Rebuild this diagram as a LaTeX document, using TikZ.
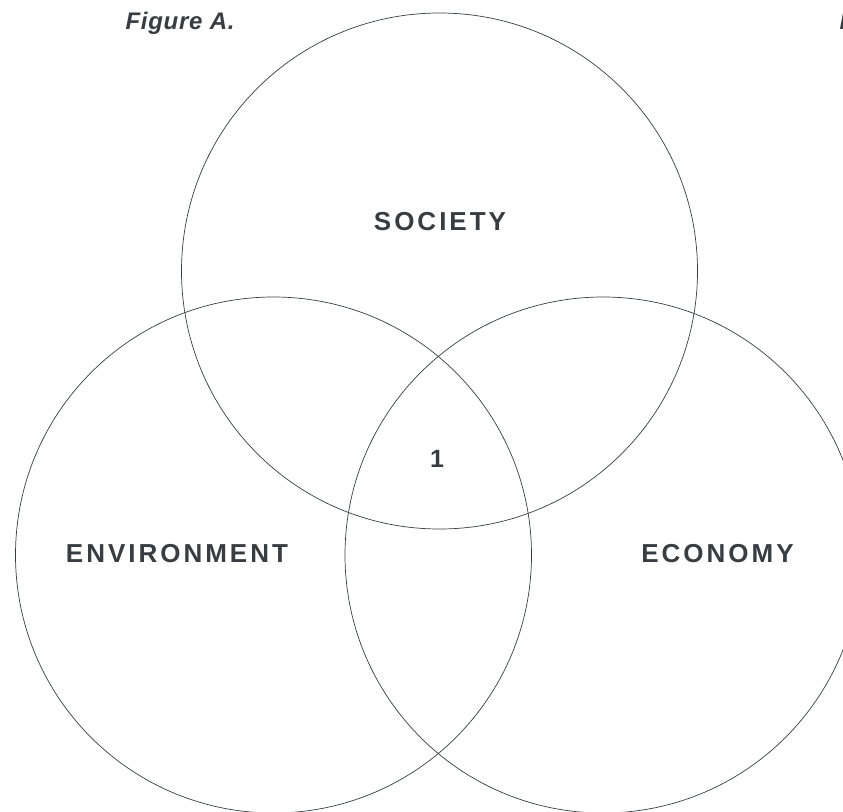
\documentclass[tikz,border=0pt]{standalone}
\usepackage{fontspec}
\setmainfont{Liberation Sans}
\newfontfamily\labelfont{Liberation Sans}[LetterSpace=11.5]
\newfontfamily\captionfont{Liberation Sans}[LetterSpace=3]
\usepackage{tikz}
\usetikzlibrary{positioning}

\definecolor{ink}{HTML}{383D42}

\begin{document}
\begin{tikzpicture} [x=1pt,y=-1pt,
  every node/.style={text=ink},
  set/.style={draw=ink,line width=0.7pt,circle,minimum size=516pt,inner sep=0pt},
  setname/.style={font=\labelfont\bfseries\fontsize{26}{30}\selectfont},
  caption/.style={font=\captionfont\bfseries\itshape\fontsize{24}{28}\selectfont,anchor=base west}]
\useasboundingbox (0,0) rectangle (843,811);

% the three sets
\node (society) [set] at (439.5,271) {};
\node (environment) [set] at (273.5,555) {};
\node (economy) [set] at (603,555) {};

% names and the common part
\node (s) [setname] at (440,222) {SOCIETY};
\node (e) [setname] at (177,553.5) {ENVIRONMENT};
\node (c) [setname] at (717.5,553.5) {ECONOMY};
\node (one) [font=\bfseries\fontsize{25}{28}\selectfont] at (437,459) {1};

\node (figa) [caption] at (122,29) {Figure A.};
\node (figb) [caption] at (836,29) {F};
\end{tikzpicture}
\end{document}
